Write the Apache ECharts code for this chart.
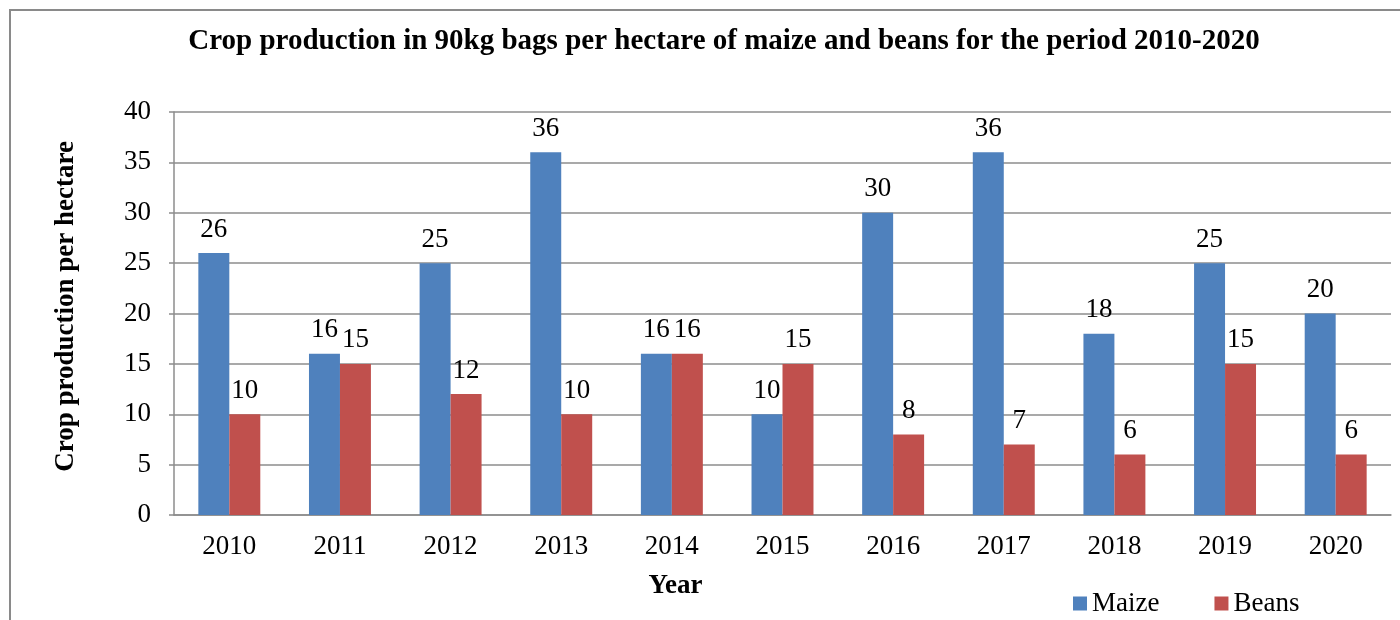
<!DOCTYPE html>
<html>
<head>
<meta charset="utf-8">
<script src="https://cdn.jsdelivr.net/npm/echarts@6/dist/echarts.min.js"></script>
<style>
  html, body { margin: 0; padding: 0; background: #fff; }
  #chart { width: 1400px; height: 620px; }
</style>
</head>
<body>
<div id="chart"></div>
<script>
const years = ["2010", "2011", "2012", "2013", "2014", "2015", "2016", "2017", "2018", "2019", "2020"];
const maize = [26, 16, 25, 36, 16, 10, 30, 36, 18, 25, 20];
const beans = [10, 15, 12, 10, 16, 15, 8, 7, 6, 15, 6];

const FONT = "'Liberation Serif', 'Times New Roman', serif";
const GRID_COLOR = "#8c8c8c";

const chart = echarts.init(document.getElementById("chart"));

const barLabel = {
  show: true,
  position: "top",
  distance: 10,
  fontFamily: FONT,
  fontSize: 27,
  color: "#000",
};

const option = {
  backgroundColor: "#fff",
  textStyle: { fontFamily: FONT },
  animation: false,
  title: {
    text: "Crop production in 90kg bags per hectare of maize and beans for the period 2010-2020",
    left: 719,
    top: 22,
    textAlign: "center",
    textStyle: {
      fontFamily: FONT,
      fontSize: 29,
      fontWeight: "bold",
      color: "#000",
    },
  },
  graphic: [
    {
      type: "rect",
      shape: { x: 10, y: 10, width: 1400, height: 620 },
      style: { fill: "none", stroke: "#8a8a8a", lineWidth: 2 },
      silent: true,
    },
  ],
  legend: {
    data: ["Maize", "Beans"],
    left: 1068,
    top: 585,
    itemWidth: 14,
    itemHeight: 14,
    itemGap: 55,
    icon: "rect",
    textStyle: { fontFamily: FONT, fontSize: 27, color: "#000" },
  },
  grid: {
    left: 174,
    right: 9,
    top: 112,
    bottom: 105,
  },
  xAxis: {
    type: "category",
    data: years,
    name: "Year",
    nameLocation: "middle",
    nameGap: 58,
    // "Year" sits left of the plot centre in the original
    nameTextStyle: { fontFamily: FONT, fontSize: 27, fontWeight: "bold", color: "#000", padding: [0, 214, 0, 0] },
    axisLine: { show: true, lineStyle: { color: GRID_COLOR, width: 1.5 } },
    axisTick: { show: false },
    axisLabel: { fontFamily: FONT, fontSize: 27, color: "#000", margin: 18 },
  },
  yAxis: {
    type: "value",
    min: 0,
    max: 40,
    interval: 5,
    name: "Crop production per hectare",
    nameLocation: "middle",
    nameGap: 94,
    nameTextStyle: { fontFamily: FONT, fontSize: 27, fontWeight: "bold", color: "#000", padding: [0, 0, 0, 14] },
    axisLine: { show: true, lineStyle: { color: GRID_COLOR, width: 1.5 } },
    axisTick: { show: true, length: 5, lineStyle: { color: GRID_COLOR, width: 1.5 } },
    axisLabel: { fontFamily: FONT, fontSize: 27, color: "#000", margin: 23 },
    splitLine: { show: true, lineStyle: { color: GRID_COLOR, width: 1.5 } },
  },
  series: [
    {
      name: "Maize",
      type: "bar",
      data: maize,
      barWidth: "28%",
      barGap: "0%",
      itemStyle: { color: "#4f81bd" },
      label: barLabel,
    },
    {
      name: "Beans",
      type: "bar",
      data: beans,
      barWidth: "28%",
      barGap: "0%",
      itemStyle: { color: "#c0504d" },
      label: barLabel,
    },
  ],
};

chart.setOption(option);
</script>
</body>
</html>
